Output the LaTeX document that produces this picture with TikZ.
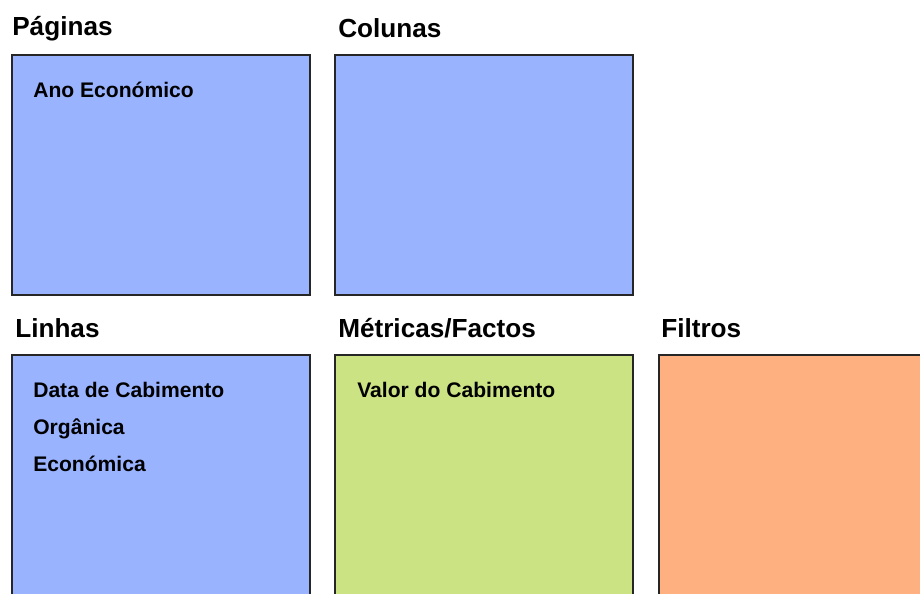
\documentclass[tikz,border=0pt]{standalone}
\usepackage{fontspec}
\setmainfont{Liberation Sans}
\definecolor{azul}{HTML}{99B3FF}
\definecolor{verde}{HTML}{CCE383}
\definecolor{laranja}{HTML}{FFB080}

\begin{document}
\begin{tikzpicture}[x=0.025cm,y=-0.025cm,
    caixa/.style={draw=black!85,line width=1.2pt,inner sep=0pt,outer sep=0pt,
      anchor=north west,minimum width=7.45cm,minimum height=6cm},
    titulo/.style={anchor=base west,inner sep=0pt,font=\fontsize{18.6}{21}\selectfont\bfseries},
    campo/.style={anchor=base west,inner sep=0pt,font=\fontsize{15}{17}\selectfont\bfseries}]
    \useasboundingbox (0,0) rectangle (920,593);
    \clip (0,0) rectangle (920,593);
    % linha de cima
    \node[caixa,fill=azul] (paginas) at (12,55) {};
    \node[caixa,fill=azul] (colunas) at (335,55) {};
    \node[titulo] (tpaginas) at (12,35) {Páginas};
    \node[titulo] (tcolunas) at (338,37) {Colunas};
    \node[campo] (ano) at (33,97) {Ano Económico};
    % linha de baixo
    \node[caixa,fill=azul,minimum height=7.2cm] (linhas) at (12,355) {};
    \node[caixa,fill=verde,minimum height=7.2cm] (metricas) at (335,355) {};
    \node[caixa,fill=laranja,minimum height=7.2cm] (filtros) at (659,355) {};
    \node[titulo] (tlinhas) at (15,337) {Linhas};
    \node[titulo] (tmetricas) at (338,337) {Métricas/Factos};
    \node[titulo] (tfiltros) at (661,337) {Filtros};
    \foreach \nome/\txt/\y in {data/Data de Cabimento/397,organica/Orgânica/434,economica/Económica/471}
      \node[campo] (\nome) at (33,\y) {\txt};
    \node[campo] (valor) at (357,397) {Valor do Cabimento};
\end{tikzpicture}
\end{document}
